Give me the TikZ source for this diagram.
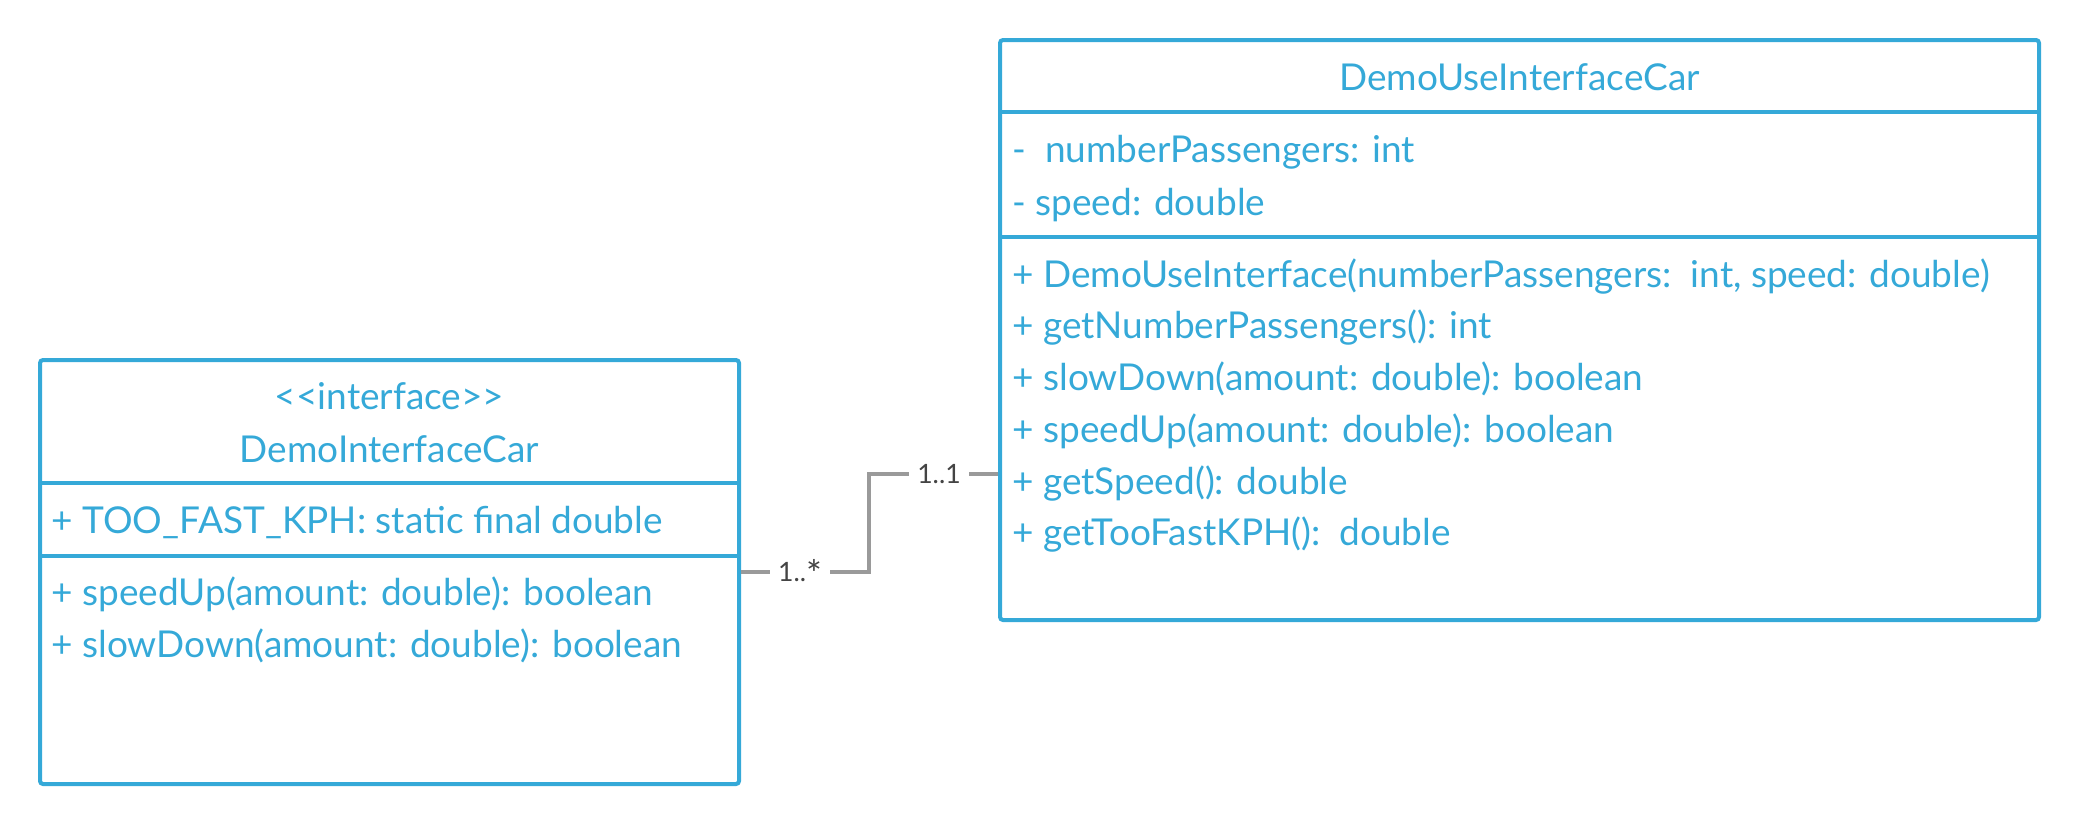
\documentclass[tikz,border=0pt]{standalone}
\usepackage{fontspec}
\usepackage{graphicx}
\setmainfont{Lato}
\definecolor{umlblue}{HTML}{35A9D8}
\definecolor{conngray}{HTML}{9A9A9A}
\definecolor{labgray}{HTML}{444444}
\begin{document}
\begin{tikzpicture}[x=0.5pt,y=-0.5pt,
  umlbox/.style={draw=umlblue, line width=2pt, rounded corners=1.5pt, inner sep=0pt},
  sep/.style={draw=umlblue, line width=2pt},
  txt/.style={anchor=base west, inner sep=0pt, text=umlblue, font=\fontsize{18.5}{22}\selectfont},
  ttl/.style={anchor=base, inner sep=0pt, text=umlblue, font=\fontsize{18.5}{22}\selectfont},
  conn/.style={draw=conngray, line width=1.8pt},
  mult/.style={fill=white, text=labgray, inner xsep=4pt, inner ysep=2pt, font=\fontsize{13.3}{16}\selectfont}]
\useasboundingbox (0,0) rectangle (2081,825);
% left class
\node[umlbox, minimum width=349.5pt, minimum height=212pt] (left) at (389.5,572) {};
\draw[sep] (left.west |- 0,483) -- (left.east |- 0,483);
\draw[sep] (left.west |- 0,556) -- (left.east |- 0,556);
\node[ttl] (lst) at (389.5,409) {<{}<interface>{}>};
\node[ttl] (lname) at (389.5,462) {DemoInterfaceCar};
\node[txt] (la1) at (51,533) {+ TOO\_FAST\_KPH: static final double};
\node[txt] (lm1) at (51,605) {+ speedUp(amount: double): boolean};
\node[txt] (lm2) at (51,657) {+ slowDown(amount: double): boolean};
% right class
\node[umlbox, minimum width=519.5pt, minimum height=290pt] (right) at (1519.5,330) {};
\draw[sep] (right.west |- 0,112) -- (right.east |- 0,112);
\draw[sep] (right.west |- 0,237) -- (right.east |- 0,237);
\node[ttl] (rname) at (1519.5,90) {DemoUseInterfaceCar};
\node[txt] (ra1) at (1012,162) {-\ \ numberPassengers: int};
\node[txt] (ra2) at (1012,215) {- speed: double};
\node[txt] (rm1) at (1012,287) {+ DemoUseInterface(numberPassengers:\ \ int, speed: double)};
\node[txt] (rm2) at (1012,338) {+ getNumberPassengers(): int};
\node[txt] (rm3) at (1012,390) {+ slowDown(amount: double): boolean};
\node[txt] (rm4) at (1012,442) {+ speedUp(amount: double): boolean};
\node[txt] (rm5) at (1012,494) {+ getSpeed(): double};
\node[txt] (rm6) at (1012,545) {+ getTooFastKPH():\ \ double};
% association
\coordinate (bend1) at (869,572);
\coordinate (bend2) at (869,474);
\draw[conn] (left.east) -- (bend1) -- (bend2) -- (right.west |- bend2);
\node[mult] (m1) at (800,573) {1..\raisebox{-2.6pt}{\scalebox{1.4}{*}}};
\node[mult] (m2) at (939,474) {1..1};
\end{tikzpicture}
\end{document}
